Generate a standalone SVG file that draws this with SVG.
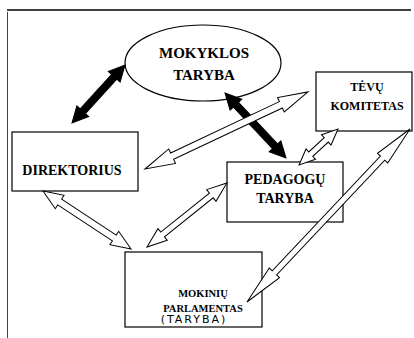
<svg xmlns="http://www.w3.org/2000/svg" width="414" height="338" viewBox="0 0 414 338">
<style>
.box{fill:#fff;stroke:#000;stroke-width:1.2}
.lbl{font-family:"Liberation Serif","Times New Roman",serif;font-weight:bold;text-anchor:middle;fill:#000}
.hand{font-family:"DejaVu Sans","Liberation Sans",sans-serif;font-weight:normal;text-anchor:middle;fill:#000;letter-spacing:2px}
.solid{fill:#000;stroke:#000;stroke-width:1}
.hollow{fill:#fff;stroke:#000;stroke-width:1;stroke-linejoin:miter}
</style>
<rect width="414" height="338" fill="#fff"/>
<g id="frame">
<line x1="7" y1="10" x2="411" y2="10" stroke="#000" stroke-width="1.3"/>
<line x1="7.5" y1="12" x2="7.5" y2="338" stroke="#444" stroke-width="1"/>
</g>
<g id="mokyklos-taryba">
<ellipse cx="203" cy="63" rx="78" ry="38" class="box"/>
<text class="lbl" x="204" y="58" font-size="15">MOKYKLOS</text>
<text class="lbl" x="204" y="80" font-size="15">TARYBA</text>
</g>
<g id="direktorius">
<rect x="12" y="132" width="126" height="59" class="box"/>
<text class="lbl" x="72" y="175" font-size="14">DIREKTORIUS</text>
</g>
<g id="pedagogu-taryba">
<rect x="227" y="162" width="116" height="60" class="box"/>
<text class="lbl" x="285" y="184" font-size="14">PEDAGOGŲ</text>
<text class="lbl" x="285" y="203" font-size="14">TARYBA</text>
</g>
<g id="tevu-komitetas">
<rect x="316" y="72" width="96" height="59" class="box"/>
<text class="lbl" x="367" y="91" font-size="12">TĖVŲ</text>
<text class="lbl" x="367" y="110" font-size="12">KOMITETAS</text>
</g>
<g id="mokiniu-parlamentas">
<rect x="125" y="252" width="137" height="75" class="box"/>
<text class="lbl" x="203" y="297" font-size="10.5">MOKINIŲ</text>
<text class="lbl" x="203" y="312" font-size="10.5">PARLAMENTAS</text>
<text class="hand" x="194" y="323" font-size="11">(TARYBA)</text>
</g>
<g id="connectors">
<polygon class="solid" transform="translate(72,123) rotate(-47.6)" points="0,0 16,-8 16,-3.5 62.6,-3.5 62.6,-8 78.6,0 62.6,8 62.6,3.5 16,3.5 16,8"/>
<polygon class="solid" transform="translate(225,93) rotate(46.8)" points="0,0 16,-8 16,-3.5 73.1,-3.5 73.1,-8 89.1,0 73.1,8 73.1,3.5 16,3.5 16,8"/>
<polygon class="hollow" transform="translate(145,169) rotate(-25.3)" points="0,0 30,-8 30,-3.5 150.3,-3.5 150.3,-8 180.3,0 150.3,8 150.3,3.5 30,3.5 30,8"/>
<polygon class="hollow" transform="translate(299,165) rotate(-42.7)" points="0,0 16,-7 16,-3 37.1,-3 37.1,-7 53.1,0 37.1,7 37.1,3 16,3 16,7"/>
<polygon class="hollow" transform="translate(43,191) rotate(33.4)" points="0,0 20,-8 20,-3.5 85.4,-3.5 85.4,-8 105.4,0 85.4,8 85.4,3.5 20,3.5 20,8"/>
<polygon class="hollow" transform="translate(147,247) rotate(-38.7)" points="0,0 20,-7.5 20,-3 82.4,-3 82.4,-7.5 102.4,0 82.4,7.5 82.4,3 20,3 20,7.5"/>
<polygon class="hollow" transform="translate(247,302) rotate(-46.7)" points="0,0 40,-7 40,-3 197.7,-3 197.7,-7 237.7,0 197.7,7 197.7,3 40,3 40,7"/>
</g>
</svg>
